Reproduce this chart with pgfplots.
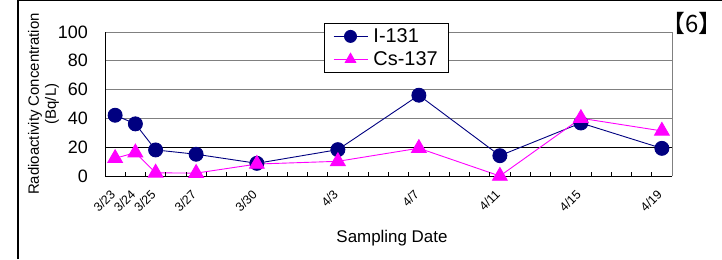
\documentclass[border=0pt]{standalone}
\usepackage{fontspec}
\setmainfont{Liberation Sans}
\newfontfamily\cjk{Noto Sans CJK JP}
\usepackage{pgfplots}
\pgfplotsset{compat=1.18}
\definecolor{navyI}{RGB}{0,0,128}
\definecolor{magCs}{RGB}{255,0,255}
\begin{document}
\begin{tikzpicture}[x=1bp,y=1bp]
\useasboundingbox (0,0) rectangle (722,259);
\draw[line width=1.3bp] (18,0) -- (18,258.2) -- (722,258.2);
\begin{axis}[
  at={(105bp,83bp)}, anchor=south west,
  scale only axis, width=567bp, height=144bp,
  xmin=-0.5, xmax=27.5, ymin=0, ymax=100,
  clip=false,
  axis x line*=bottom, axis y line*=left,
  axis line style={black, line width=0.8bp},
  xtick={-0.5,0.5,...,27.5},
  xticklabels={3/23,3/24,3/25,,3/27,,,3/30,,,,4/3,,,,4/7,,,,4/11,,,,4/15,,,,4/19,},
  xtick style={draw=none},
  xticklabel style={font=\fontsize{12.5}{14}\selectfont, xshift=8bp, yshift=-16bp, rotate=45, anchor=east, inner sep=0pt},
  ytick={0,40,60,80,100},
  extra y ticks={20},
  extra y tick style={major grid style={black, line width=0.8bp}},
  ytick style={draw=none},
  ymajorgrids,
  major grid style={gray, line width=0.8bp},
  yticklabel style={font=\fontsize{18}{20}\selectfont, inner sep=0pt, xshift=-17bp},
  /pgf/number format/assume math mode=true,
  legend style={at={(0.386,1.0625)}, anchor=north west, draw=black, fill=white,
     font=\fontsize{20}{22}\selectfont, row sep=4.5bp, inner xsep=9bp, inner ysep=4bp,
     nodes={inner sep=1.5bp}, cells={anchor=west},
     /tikz/every odd column/.append style={column sep=4bp}},
  legend image code/.code={\draw[mark repeat=2,mark phase=2, mark size=6bp] plot coordinates {(0bp,0bp) (17bp,0bp) (34bp,0bp)};},
]
\addplot[navyI, line width=0.9bp, mark=*, mark size=7bp, mark options={fill=navyI, draw=navyI}]
  coordinates {(0,42.2) (1,36.2) (2,18.1) (4,15.1) (7,8.8) (11,18.3) (15,56.1) (19,14.1) (23,36.8) (27,19.2)};
\addlegendentry{I-131}
\addplot[magCs, line width=0.9bp, mark=triangle*, mark size=8.5bp, mark options={fill=magCs, draw=magCs}]
  coordinates {(0,12.3) (1,16.2) (2,2.2) (4,2.0) (7,8.3) (11,10.2) (15,19.3) (19,0) (23,40.1) (27,31.3)};
\addlegendentry{Cs-137}
% category boundary tick marks (inside, 4.5 px tall)
\addplot[forget plot, black, line width=0.8bp, ycomb, mark=none]
  coordinates {(0.5,3.1) (1.5,3.1) (2.5,3.1) (3.5,3.1) (4.5,3.1) (5.5,3.1) (6.5,3.1) (7.5,3.1) (8.5,3.1) (9.5,3.1) (10.5,3.1) (11.5,3.1) (12.5,3.1) (13.5,3.1) (14.5,3.1) (15.5,3.1) (16.5,3.1) (17.5,3.1) (18.5,3.1) (19.5,3.1) (20.5,3.1) (21.5,3.1) (22.5,3.1) (23.5,3.1) (24.5,3.1) (25.5,3.1) (26.5,3.1) (27.5,3.1)};
\draw[gray, line width=0.8bp] (rel axis cs:1,0) -- (rel axis cs:1,1);
\end{axis}
\node[font=\cjk\fontsize{24}{26}\selectfont, inner sep=0pt] at (692,235.5) {【6】};
\node[rotate=90, align=center, font=\fontsize{15}{17}\selectfont] at (43.5,155) {Radioactivity Concentration\\(Bq/L)};
\node[font=\fontsize{17}{19}\selectfont] at (392,21) {Sampling Date};
\end{tikzpicture}
\end{document}
